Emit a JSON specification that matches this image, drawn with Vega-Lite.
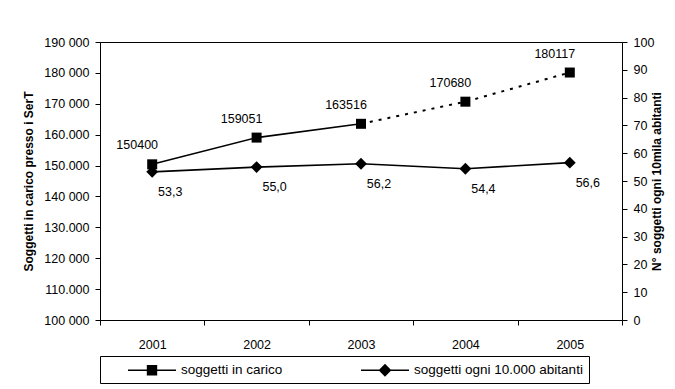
{
  "$schema": "https://vega.github.io/schema/vega-lite/v6.json",
  "width": 522,
  "height": 278,
  "autosize": "none",
  "padding": {"left": 100, "top": 42, "right": 53, "bottom": 69},
  "background": "white",
  "config": {
    "font": "Liberation Sans",
    "view": {"stroke": "black", "strokeWidth": 1},
    "locale": {"number": {"decimal": ",", "thousands": ".", "grouping": [3], "currency": ["€", ""]}},
    "axis": {"domainColor": "black", "tickColor": "black", "labelColor": "black", "titleColor": "black", "grid": false, "labelFont": "Liberation Sans", "labelFontSize": 12.5, "titleFontSize": 12, "titleFontWeight": "bold"}
  },
  "datasets": {
    "carico": [
      {"anno": "2001", "valore": 150400, "serie": "soggetti in carico"},
      {"anno": "2002", "valore": 159051, "serie": "soggetti in carico"},
      {"anno": "2003", "valore": 163516, "serie": "soggetti in carico"},
      {"anno": "2004", "valore": 170680, "serie": "soggetti in carico"},
      {"anno": "2005", "valore": 180117, "serie": "soggetti in carico"}
    ],
    "tasso": [
      {"anno": "2001", "valore": 53.3, "serie": "soggetti ogni 10.000 abitanti"},
      {"anno": "2002", "valore": 55.0, "serie": "soggetti ogni 10.000 abitanti"},
      {"anno": "2003", "valore": 56.2, "serie": "soggetti ogni 10.000 abitanti"},
      {"anno": "2004", "valore": 54.4, "serie": "soggetti ogni 10.000 abitanti"},
      {"anno": "2005", "valore": 56.6, "serie": "soggetti ogni 10.000 abitanti"}
    ]
  },
  "encoding": {
    "x": {
      "field": "anno", "type": "ordinal",
      "scale": {"type": "band", "paddingInner": 0, "paddingOuter": 0},
      "axis": {"title": null, "labelAngle": 0, "tickBand": "extent", "tickSize": 5, "labelPadding": 13, "domainColor": "black"}
    }
  },
  "layer": [
    {
      "data": {"name": "carico"},
      "encoding": {
        "y": {
          "field": "valore", "type": "quantitative",
          "scale": {"domain": [100000, 190000], "nice": false, "zero": false},
          "axis": {
            "title": "Soggetti in carico presso i SerT",
            "values": [100000, 110000, 120000, 130000, 140000, 150000, 160000, 170000, 180000, 190000],
            "labelExpr": "floor(datum.value/1000) + ((datum.value==110000||datum.value==130000||datum.value==150000||datum.value==160000) ? '.000' : ' 000')",
            "tickSize": 5, "labelPadding": 6, "titlePadding": 8
          }
        }
      },
      "layer": [
        {"transform": [{"filter": "datum.anno <= '2003'"}], "mark": {"type": "line", "color": "black", "strokeWidth": 1.6}},
        {"transform": [{"filter": "datum.anno >= '2003'"}], "mark": {"type": "line", "color": "black", "strokeWidth": 2, "strokeDash": [3, 6]}},
        {"mark": {"type": "point", "shape": "square", "filled": true, "color": "black", "size": 100, "opacity": 1}},
        {
          "mark": {"type": "point", "filled": true, "color": "black", "opacity": 0},
          "encoding": {
            "shape": {
              "field": "serie", "type": "nominal",
              "scale": {
                "domain": ["soggetti in carico", "soggetti ogni 10.000 abitanti"],
                "range": [
                  "M1.75,-0.09H7.75V0.09H1.75ZM4.1,-0.65H5.4V0.65H4.1Z",
                  "M1.75,-0.09H7.75V0.09H1.75ZM4.75,-0.8L5.55,0L4.75,0.8L3.95,0Z"
                ]
              },
              "legend": {
                "title": null, "orient": "bottom", "direction": "horizontal", "offset": 5,
                "strokeColor": "black", "padding": 6, "labelFontSize": 13.5, "labelFont": "Liberation Sans",
                "symbolSize": 256, "symbolFillColor": "black", "symbolStrokeWidth": 0,
                "symbolOpacity": 1, "labelOffset": 59, "columnPadding": 56, "labelColor": "black", "labelLimit": 400
              }
            }
          }
        },
        {
          "mark": {"type": "text", "fontSize": 12.5, "dx": -15, "dy": -19, "color": "black"},
          "encoding": {"text": {"field": "valore", "type": "quantitative", "format": "d"}}
        }
      ]
    },
    {
      "data": {"name": "tasso"},
      "encoding": {
        "y": {
          "field": "valore", "type": "quantitative",
          "scale": {"domain": [0, 100], "nice": false},
          "axis": {
            "orient": "right",
            "title": "N° soggetti ogni 10mila abitanti",
            "titleAngle": 270,
            "values": [0, 10, 20, 30, 40, 50, 60, 70, 80, 90, 100],
            "tickSize": 5, "labelPadding": 6, "titlePadding": 10
          }
        }
      },
      "layer": [
        {"mark": {"type": "line", "color": "black", "strokeWidth": 1.6}},
        {"mark": {"type": "point", "shape": "diamond", "filled": true, "color": "black", "size": 140, "opacity": 1}},
        {
          "mark": {"type": "point", "filled": true, "color": "black", "opacity": 0},
          "encoding": {"shape": {"field": "serie", "type": "nominal"}}
        },
        {
          "mark": {"type": "text", "fontSize": 12.5, "dx": 18, "dy": 20, "color": "black"},
          "encoding": {"text": {"field": "valore", "type": "quantitative", "format": ".1f"}}
        }
      ]
    }
  ],
  "resolve": {"scale": {"y": "independent"}}
}
